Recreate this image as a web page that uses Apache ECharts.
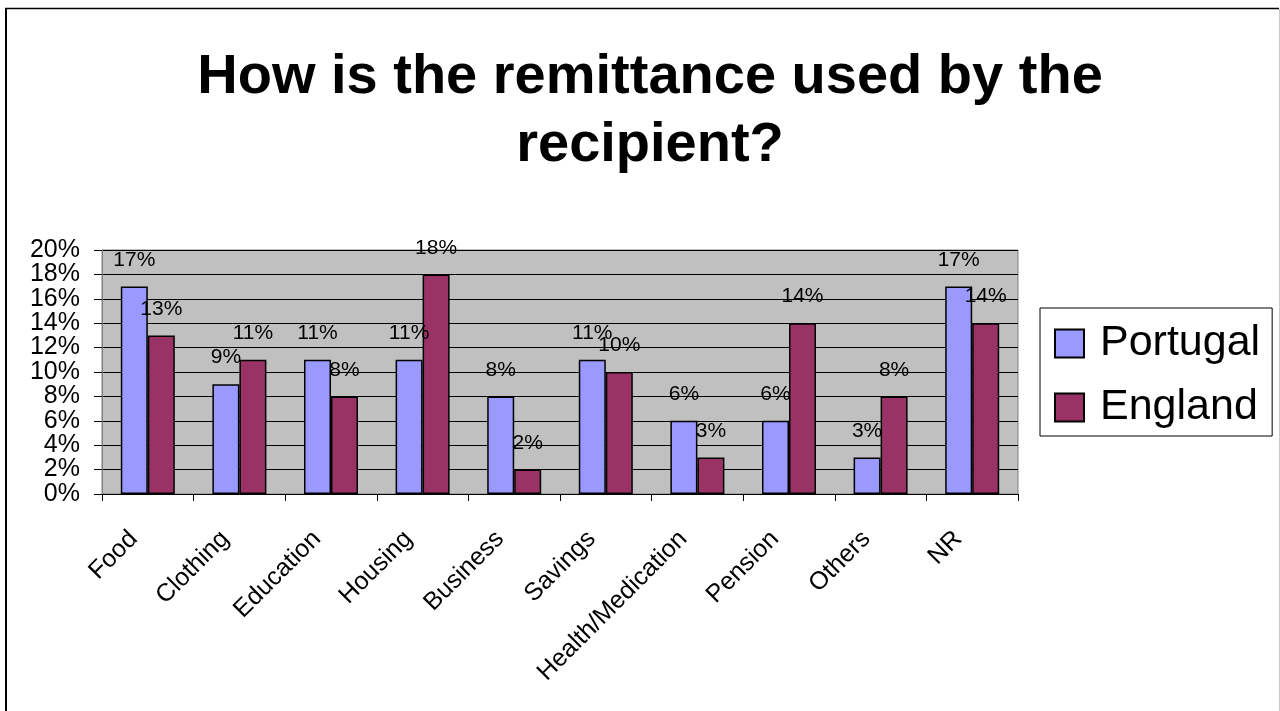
<!DOCTYPE html>
<html>
<head>
<meta charset="utf-8">
<title>How is the remittance used by the recipient?</title>
<script src="https://cdn.jsdelivr.net/npm/echarts@6/dist/echarts.min.js"></script>
<style>
  html, body { margin: 0; padding: 0; background: #ffffff; }
  #chart { width: 1280px; height: 711px; }
</style>
</head>
<body>
<div id="chart"></div>
<script>
// Uses of the remittance, share of answers per country (%)
const categories = ['Food', 'Clothing', 'Education', 'Housing', 'Business', 'Savings', 'Health/Medication', 'Pension', 'Others', 'NR'];
const portugal = [17, 9, 11, 11, 8, 11, 6, 6, 3, 17];
const england  = [13, 11, 8, 18, 2, 10, 3, 14, 8, 14];
const seriesNames = ['Portugal', 'England'];
const titleLines = ['How is the remittance used by the', 'recipient?'];
const yMax = 20;
const yStep = 2;

const FONT = '"Liberation Sans", Arial, sans-serif';

const chart = echarts.init(document.getElementById('chart'), null, { renderer: 'canvas' });

function barSeries(name, values, color) {
  return {
    name: name,
    type: 'bar',
    data: values,
    barWidth: 27,
    barGap: '0%',
    itemStyle: { color: color, borderColor: '#000000', borderWidth: 1.5 },
    label: {
      show: true,
      position: 'top',
      distance: 16,
      formatter: '{c}%',
      color: '#000000',
      fontFamily: FONT,
      fontSize: 21
    },
    emphasis: { disabled: true }
  };
}

const yLabelStyle = {
  margin: 22,
  fontFamily: FONT,
  fontSize: 25,
  color: '#000000'
};

chart.setOption({
  backgroundColor: '#ffffff',
  animation: false,
  title: {
    text: titleLines.join('\n'),
    left: 645,
    top: 39,
    textAlign: 'center',
    textStyle: {
      fontFamily: FONT,
      fontSize: 56,
      fontWeight: 'bold',
      color: '#000000',
      lineHeight: 68
    }
  },
  legend: {
    orient: 'vertical',
    left: 1040,
    top: 308,
    padding: [14, 12, 7, 14],
    itemGap: 21,
    itemWidth: 29,
    itemHeight: 28,
    icon: 'rect',
    borderColor: '#000000',
    borderWidth: 1,
    backgroundColor: '#ffffff',
    textStyle: {
      fontFamily: FONT,
      fontSize: 43,
      color: '#000000',
      padding: [0, 0, 0, 11]
    },
    data: seriesNames
  },
  grid: {
    left: 102,
    right: 262,
    top: 250,
    bottom: 217,
    show: true,
    backgroundColor: '#C0C0C0',
    borderColor: '#808080',
    borderWidth: 1,
    containLabel: false
  },
  xAxis: {
    type: 'category',
    data: categories,
    boundaryGap: true,
    axisLine: { show: true, lineStyle: { color: '#000000', width: 1 } },
    axisTick: { show: true, length: 7, lineStyle: { color: '#000000' } },
    axisLabel: {
      rotate: 45,
      interval: 0,
      margin: 27,
      padding: [0, 20, 0, 0],
      fontFamily: FONT,
      fontSize: 25,
      color: '#000000'
    }
  },
  yAxis: [
    {
      // main axis: line, ticks, gridlines and the labels at multiples of 4
      type: 'value',
      min: 0,
      max: yMax,
      interval: yStep,
      position: 'left',
      axisLine: { show: true, lineStyle: { color: '#808080', width: 1 } },
      axisTick: { show: true, length: 8, lineStyle: { color: '#000000' } },
      splitLine: { show: true, lineStyle: { color: '#000000', width: 1 } },
      axisLabel: Object.assign({
        showMinLabel: true,
        showMaxLabel: true,
        formatter: function (v) { return v % (2 * yStep) === 0 ? v + '%' : ''; }
      }, yLabelStyle)
    },
    {
      // companion axis on the same scale carrying the in-between labels
      type: 'value',
      min: 0,
      max: yMax,
      interval: yStep,
      position: 'left',
      offset: 0,
      axisLine: { show: false },
      axisTick: { show: false },
      splitLine: { show: false },
      axisLabel: Object.assign({
        formatter: function (v) { return v % (2 * yStep) !== 0 ? v + '%' : ''; }
      }, yLabelStyle)
    }
  ],
  series: [
    barSeries(seriesNames[0], portugal, '#9999FF'),
    barSeries(seriesNames[1], england, '#993366')
  ],
  graphic: [
    // page frame
    { type: 'line', shape: { x1: 6, y1: 8, x2: 6, y2: 711 }, style: { stroke: '#000000', lineWidth: 2 } },
    { type: 'line', shape: { x1: 5, y1: 8.5, x2: 1279, y2: 8.5 }, style: { stroke: '#000000', lineWidth: 1.5 } },
    { type: 'line', shape: { x1: 1279.5, y1: 9, x2: 1279.5, y2: 711 }, style: { stroke: '#c8c8c8', lineWidth: 1 } }
  ]
});
</script>
</body>
</html>
